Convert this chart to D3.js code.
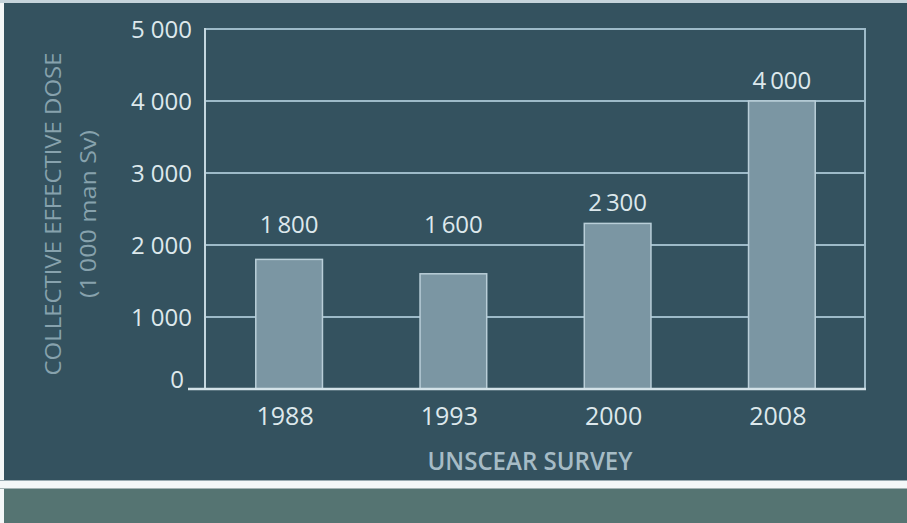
<!DOCTYPE html>
<html>
<head>
<meta charset="utf-8">
<script src="https://cdn.jsdelivr.net/npm/d3@7"></script>
<style>
    body { margin: 0; background: #f4f7f8; }
    svg { display: block; }
    text { font-family: "Open Sans", "Noto Sans", sans-serif; }
</style>
</head>
<body>
<svg id="chart"></svg>
<script>
const surveys = ["1988", "1993", "2000", "2008"];
const doses = [1800, 1600, 2300, 4000]; // 1000 man Sv
const yTicks = [0, 1000, 2000, 3000, 4000, 5000];

/* ===== Config ===== */
const W = 907, H = 523;
const plot = { left: 205, right: 865, top: 29, bottom: 389 };

const svg = d3.select('#chart').attr('width', W).attr('height', H);

const fmt = v => d3.format(',')(v).replace(',', '\u2009');

// Background panels
svg.append('rect').attr('x', 0).attr('y', 0).attr('width', W).attr('height', 3).attr('fill', '#c6d4db');
svg.append('rect').attr('x', 4).attr('y', 3).attr('width', W - 4).attr('height', 477).attr('fill', '#34525f');
svg.append('rect').attr('x', 0).attr('y', 480).attr('width', W).attr('height', 1).attr('fill', '#9aabb2');
svg.append('rect').attr('x', 0).attr('y', 488).attr('width', W).attr('height', 1).attr('fill', '#a4b3b4');
svg.append('rect').attr('x', 4).attr('y', 489).attr('width', W - 4).attr('height', H - 489).attr('fill', '#557472');

const x = d3.scaleBand()
    .domain(surveys)
    .range([207, 864])
    .paddingInner(0.594)
    .paddingOuter(0.297);

const y = d3.scaleLinear()
    .domain([0, 5000])
    .range([plot.bottom, plot.top]);

const g = svg.append('g');

// Grid lines (skip 0, drawn as baseline)
g.selectAll('.grid')
    .data(yTicks.filter(d => d > 0))
    .enter().append('line')
    .attr('x1', plot.left)
    .attr('x2', plot.right)
    .attr('y1', d => y(d))
    .attr('y2', d => y(d))
    .attr('stroke', '#9dbac8')
    .attr('stroke-width', 2);

// Left axis + right border
g.append('line')
    .attr('x1', plot.left).attr('x2', plot.left)
    .attr('y1', y(5000) - 1).attr('y2', y(0))
    .attr('stroke', '#c4d7df').attr('stroke-width', 2);
g.append('line')
    .attr('x1', plot.right).attr('x2', plot.right)
    .attr('y1', y(5000) - 1).attr('y2', y(0))
    .attr('stroke', '#9dbac8').attr('stroke-width', 2);

// Bars
g.selectAll('.bar')
    .data(doses)
    .enter().append('rect')
    .attr('x', (d, i) => x(surveys[i]))
    .attr('y', d => y(d))
    .attr('width', x.bandwidth())
    .attr('height', d => y(0) - y(d))
    .attr('fill', '#7b96a3')
    .attr('stroke', '#b9ced8')
    .attr('stroke-width', 1.5);

// Baseline
g.append('line')
    .attr('x1', 188).attr('x2', plot.right + 1)
    .attr('y1', y(0)).attr('y2', y(0))
    .attr('stroke', '#d3e2e8').attr('stroke-width', 2.5);

// Value labels, kept clear of the 2000 gridline
g.selectAll('.value')
    .data(doses)
    .enter().append('text')
    .attr('x', (d, i) => x(surveys[i]) + x.bandwidth() / 2)
    .attr('y', d => y(Math.max(d, 2000)) - 12)
    .attr('text-anchor', 'middle')
    .attr('fill', '#dde8ec')
    .attr('font-size', 24)
    .text(fmt);

// Y tick labels
g.selectAll('.ytick')
    .data(yTicks)
    .enter().append('text')
    .attr('x', d => d === 0 ? 184 : 192)
    .attr('y', d => d === 0 ? y(d) - 1 : y(d) + 9)
    .attr('text-anchor', 'end')
    .attr('fill', '#dde8ec')
    .attr('font-size', 24)
    .text(d => d3.format(',')(d).replace(',', ' '));

// X tick labels
g.selectAll('.xtick')
    .data(surveys)
    .enter().append('text')
    .attr('x', d => x(d) + x.bandwidth() / 2 - 4)
    .attr('y', 425)
    .attr('text-anchor', 'middle')
    .attr('fill', '#dde8ec')
    .attr('font-size', 25)
    .text(d => d);

// Axis titles
svg.append('text')
    .attr('transform', 'translate(530 470)')
    .attr('text-anchor', 'middle')
    .attr('fill', '#a6bcc6')
    .attr('font-size', 25)
    .attr('font-weight', 600)
    .attr('textLength', 205)
    .attr('lengthAdjust', 'spacingAndGlyphs')
    .text('UNSCEAR SURVEY');

svg.append('text')
    .attr('transform', 'translate(61 214) rotate(-90)')
    .attr('text-anchor', 'middle')
    .attr('fill', '#87a2ad')
    .attr('font-size', 21)
    .attr('textLength', 323)
    .attr('lengthAdjust', 'spacingAndGlyphs')
    .text('COLLECTIVE EFFECTIVE DOSE');

svg.append('text')
    .attr('transform', 'translate(96 214) rotate(-90)')
    .attr('text-anchor', 'middle')
    .attr('fill', '#87a2ad')
    .attr('font-size', 21)
    .attr('textLength', 168)
    .attr('lengthAdjust', 'spacingAndGlyphs')
    .text('(1\u2009000 man Sv)');
</script>
</body>
</html>
